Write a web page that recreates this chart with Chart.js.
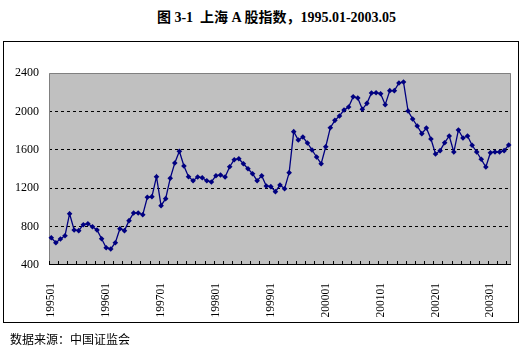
<!DOCTYPE html>
<html>
<head>
<meta charset="utf-8">
<script src="https://cdn.jsdelivr.net/npm/chart.js@4"></script>
<style>
    body { margin: 0; background: #fff; }
    #wrap { position: relative; width: 523px; height: 352px; }
    #title {
        position: absolute; left: 15px; top: 6px; width: 523px; text-align: center;
        font: bold 14px "Liberation Serif", "Noto Sans CJK SC", serif; color: #000;
    }
    #frame {
        position: absolute; left: 3px; top: 41px; width: 514px; height: 280px;
        border: 1px solid #000;
    }
    #source {
        position: absolute; left: 10px; top: 330px;
        font: 12px "Noto Sans CJK SC", sans-serif; color: #000;
    }
    canvas { position: absolute; left: 0; top: 0; }
</style>
</head>
<body>
<div id="wrap">
    <div id="title">图 3-1&nbsp; 上海 A 股指数，1995.01-2003.05</div>
    <div id="frame"></div>
    <canvas id="index-chart" width="523" height="352"></canvas>
    <div id="source">数据来源：中国证监会</div>
</div>
<script>
/**
 * data
 */
const years = ["1995", "1996", "1997", "1998", "1999", "2000", "2001", "2002", "2003"];
const monthsInLastYear = 5;

// 上海 A 股指数 (monthly)
const indexValues = [
    684, 632, 671, 705, 934, 765, 758, 820, 830, 799, 765, 674,       // 1995
    580, 567, 632, 778, 758, 862, 942, 942, 924, 1105, 1112, 1320,   // 1996
    1018, 1091, 1303, 1462, 1584, 1431, 1320, 1278, 1317, 1309, 1278, 1265, // 1997
    1330, 1337, 1317, 1424, 1497, 1507, 1455, 1403, 1351, 1278, 1330, 1223, // 1998
    1216, 1164, 1233, 1195, 1362, 1789, 1702, 1733, 1671, 1598, 1525, 1455, // 1999
    1632, 1830, 1907, 1952, 2015, 2046, 2153, 2140, 2022, 2084, 2192, 2195, // 2000
    2184, 2070, 2216, 2216, 2296, 2306, 2004, 1921, 1848, 1768, 1827, 1713, // 2001
    1556, 1591, 1674, 1744, 1577, 1806, 1723, 1744, 1647, 1577, 1501, 1421, // 2002
    1570, 1577, 1577, 1591, 1650                                        // 2003
];

const tickLabels = ["199501", "199601", "199701", "199801", "199901", "200001", "200101", "200201", "200301"];
const yTicks = [400, 800, 1200, 1600, 2000, 2400];

// month categories like 199501 ... 200305
function buildMonths() {
    const labels = [];
    years.forEach((y, i) => {
        const count = i === years.length - 1 ? monthsInLastYear : 12;
        for (let m = 1; m <= count; m++) {
            labels.push(y + String(m).padStart(2, "0"));
        }
    });
    return labels;
}

// gray plot area, border and small inner ticks
const plotAreaPlugin = {
    id: "plotArea",
    beforeDraw(chart) {
        const { ctx, chartArea: a } = chart;
        ctx.save();
        ctx.fillStyle = "#c0c0c0";
        ctx.fillRect(a.left, a.top, a.right - a.left, a.bottom - a.top);
        ctx.restore();
    },
    beforeDatasetsDraw(chart) {
        const { ctx, chartArea: a } = chart;
        const x = chart.scales.x;
        const half = (x.getPixelForValue(1) - x.getPixelForValue(0)) / 2;

        ctx.save();
        ctx.lineWidth = 1;
        ctx.strokeStyle = "#808080";
        ctx.beginPath();
        ctx.moveTo(a.left + 0.5, a.bottom);
        ctx.lineTo(a.left + 0.5, a.top + 0.5);
        ctx.lineTo(a.right - 0.5, a.top + 0.5);
        ctx.lineTo(a.right - 0.5, a.bottom);
        ctx.stroke();

        ctx.strokeStyle = "#000";
        ctx.beginPath();
        ctx.moveTo(a.left, a.bottom - 0.5);
        ctx.lineTo(a.right, a.bottom - 0.5);
        for (let i = 0; i <= chart.data.labels.length; i += 2) {
            const px = Math.round(x.getPixelForValue(i) - half) + 0.5;
            ctx.moveTo(px, a.bottom);
            ctx.lineTo(px, a.bottom - 4);
        }
        ctx.stroke();
        ctx.restore();
    }
};

function initIndexChart() {
    const labels = buildMonths();
    const ctx = document.getElementById("index-chart").getContext("2d");

    new Chart(ctx, {
        type: "line",
        data: {
            labels: labels,
            datasets: [{
                data: indexValues,
                borderColor: "#000080",
                backgroundColor: "#000080",
                borderWidth: 1.3,
                tension: 0,
                pointStyle: "rectRot",
                pointRadius: 2.8,
                pointBorderWidth: 0,
                pointBackgroundColor: "#000080"
            }]
        },
        options: {
            responsive: false,
            animation: false,
            layout: { padding: { left: 0, right: 12, top: 73, bottom: 27 } },
            plugins: {
                legend: { display: false },
                tooltip: { enabled: false }
            },
            scales: {
                x: {
                    type: "category",
                    offset: true,
                    grid: { display: false },
                    border: { display: false },
                    afterFit: (scale) => { scale.height = 60; },
                    ticks: {
                        autoSkip: false,
                        minRotation: 90,
                        maxRotation: 90,
                        padding: 10,
                        color: "#000",
                        font: { family: "Liberation Serif", size: 11.5 },
                        callback: function(value) {
                            const label = this.getLabelForValue(value);
                            return tickLabels.includes(label) ? label : null;
                        }
                    }
                },
                y: {
                    min: yTicks[0],
                    max: yTicks[yTicks.length - 1],
                    afterFit: (scale) => { scale.width = 49; },
                    afterBuildTicks: (scale) => {
                        scale.ticks = yTicks.map(v => ({ value: v }));
                    },
                    border: { display: false, dash: [3, 3] },
                    grid: {
                        drawTicks: false,
                        lineWidth: 1,
                        color: (c) => (c.tick && (c.tick.value === yTicks[0] || c.tick.value === yTicks[yTicks.length - 1]))
                            ? "rgba(0,0,0,0)" : "#000"
                    },
                    ticks: {
                        padding: 10,
                        color: "#000",
                        font: { family: "Liberation Serif", size: 12 },
                        callback: (value) => String(value)
                    }
                }
            }
        },
        plugins: [plotAreaPlugin]
    });
}

initIndexChart();
</script>
</body>
</html>
